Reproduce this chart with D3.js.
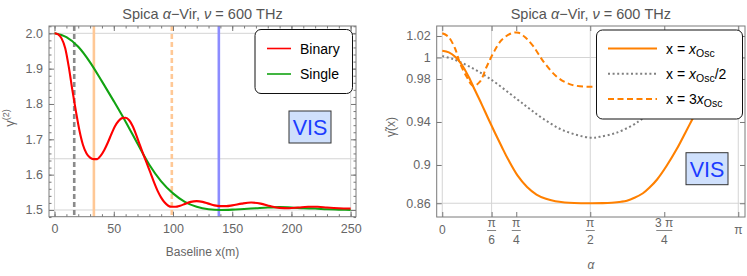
<!DOCTYPE html>
<meta charset="utf-8">
<style>
body { margin: 0; background: #fff; }
svg text { font-family: "Liberation Sans", Arial, Helvetica, sans-serif; }
.tick text { fill: #666; font-size: 12.5px; }
.tick line { stroke: #777; }
.frame { fill: none; stroke: #7a7a7a; stroke-width: 1; }
.grid { stroke: #d4d4d4; stroke-width: 1; }
.title { fill: #555; font-size: 14.5px; text-anchor: middle; }
.alabel { fill: #666; font-size: 12px; text-anchor: middle; }
.legtext { fill: #000; font-size: 14px; }
.vis { fill: #1b3cff; font-size: 21.5px; text-anchor: middle; }
</style>
<body>
<script src="https://d3js.org/d3.v7.min.js"></script>
<script>

// ---- left panel data: gamma(2) vs baseline ----
var binaryX = [0,3,6,9,12,15,18,21,24,27,30,33,36,39,42,45,48,51,54,57,60,63,66,69,72,75,78,81,84,87,
               90,93,96,99,102,106,110,115,120,125,130,135,140,145,150,158,166,174,182,190,198,206,214,222,230,240,250];
var binaryY = [2.000,1.997,1.985,1.958,1.905,1.840,1.780,1.725,1.684,1.660,1.648,1.644,1.644,1.654,1.670,1.691,1.715,1.737,1.752,1.760,
               1.761,1.754,1.737,1.712,1.684,1.657,1.631,1.605,1.578,1.554,1.535,1.521,1.512,1.509,1.509,1.512,1.517,1.523,1.525,1.523,
               1.518,1.513,1.511,1.511,1.513,1.518,1.521,1.518,1.511,1.506,1.505,1.507,1.509,1.509,1.507,1.505,1.504];
var singleX = [0,10,20,30,40,50,60,70,80,90,100,110,120,130,140,150,160,170,180,190,200,210,220,230,240,250];
var singleY = [2.000,1.989,1.962,1.918,1.864,1.808,1.750,1.688,1.628,1.581,1.547,1.523,1.509,1.502,1.500,1.501,1.503,1.505,1.507,1.508,
               1.507,1.505,1.504,1.502,1.501,1.500];
var markerX = [16.6, 33.2, 99, 138.7];
var xTicksL = [0,50,100,150,200,250];
var yTicksL = [1.5,1.6,1.7,1.8,1.9,2.0];
var yTickLabelsL = ["1.5","1.6","1.7","1.8","1.9","2.0"];
var hGridL = [2.0, 1.645, 1.5];
var vGridL = [0, 250];
var legendL = ["Binary", "Single"];

// ---- right panel data: gamma~(x) vs alpha ----
var oscA = [0,0.07,0.14,0.21,0.28,0.35,0.42,0.49,0.56,0.63,0.70,0.80,0.90,1.00,1.10,1.20,1.30,1.40,1.571,1.70,1.80,1.90,1.96,2.04,
            2.13,2.20,2.28,2.38,2.49,2.58,2.65,2.72,2.79,2.86,2.93,3.00,3.07,3.1416];
var oscV = [1.0063,1.0048,1.0005,0.9930,0.9820,0.9690,0.9562,0.9428,0.9298,0.9172,0.9050,0.8900,0.8795,0.8725,0.8685,0.8662,0.8651,0.8646,0.8644,
            0.8645,0.8649,0.8658,0.8668,0.8695,0.8737,0.8790,0.8865,0.8990,0.9150,0.9300,0.9419,0.9540,0.9665,0.9785,0.9890,0.9975,1.0035,1.0063];
var halfA = [0,0.12,0.29,0.50,0.79,0.93,1.08,1.29,1.571,1.67,1.85,2.03,2.10,2.28,2.50,2.80,3.1416];
var halfV = [1.0014,0.9983,0.9915,0.9806,0.9615,0.9520,0.9425,0.9320,0.9254,0.9262,0.9300,0.9375,0.9415,0.9520,0.9660,0.9850,1.0014];
var tripleA = [0,0.064,0.135,0.188,0.259,0.329,0.40,0.471,0.541,0.63,0.736,0.81,0.89,0.97,1.076,1.217,1.359,1.571,
               1.783,1.925,2.066,2.172,2.252,2.332,2.406,2.512,2.601,2.671,2.742,2.813,2.883,2.954,3.007,3.078,3.1416];
var tripleV = [1.0225,1.0194,1.0086,0.9946,0.9821,0.9735,0.9775,0.9914,1.0040,1.0163,1.0225,1.0230,1.0180,1.0100,0.9960,0.9820,0.9750,0.9728,
               0.9750,0.9820,0.9960,1.0100,1.0180,1.0230,1.0225,1.0163,1.0040,0.9914,0.9775,0.9735,0.9821,0.9946,1.0086,1.0194,1.0225];
var xTicksR = [0, Math.PI/6, Math.PI/4, Math.PI/2, 3*Math.PI/4, Math.PI];
var xTickNumR = ["0", "π", "π", "π", "3 π", "π"];
var xTickDenR = ["", "6", "4", "2", "4", ""];
var yTicksR = [1.02, 1, 0.98, 0.94, 0.9, 0.8644];
var yTickLabelsR = ["1.02", "1", "0.98", "0.94", "0.9", "0.86"];
var hGridR = [1, 0.8644];
var vGridR = [0, Math.PI/6, Math.PI/2, Math.PI];

var svg = d3.select("body").append("svg")
    .attr("width", 747)
    .attr("height", 276);

// frames (pixel boxes of the two plots)
var fL = {x0: 49, x1: 356, y0: 26, y1: 216.7};
var fR = {x0: 436.7, x1: 745, y0: 26, y1: 217};

var xL = d3.scaleLinear().domain([-4.7, 254.5]).range([fL.x0, fL.x1]);
var yL = d3.scaleLinear().domain([1.481, 2.0207]).range([fL.y1, fL.y0]);
var xR = d3.scaleLinear().domain([-0.059, 3.213]).range([fR.x0, fR.x1]);
var yR = d3.scaleLinear().domain([0.8516, 1.0293]).range([fR.y1, fR.y0]);

function clip(id, f) {
  svg.append("clipPath").attr("id", id).append("rect")
    .attr("x", f.x0).attr("y", f.y0).attr("width", f.x1 - f.x0).attr("height", f.y1 - f.y0);
}
clip("cL", fL);
clip("cR", fR);

function noDomain(g) { g.select(".domain").remove(); }

// ===================== LEFT PANEL =====================
var gL = svg.append("g");

// gridlines
gL.selectAll(".hg").data(hGridL).enter().append("line").attr("class", "grid")
  .attr("x1", fL.x0).attr("x2", fL.x1).attr("y1", function(d){ return yL(d); }).attr("y2", function(d){ return yL(d); });
gL.selectAll(".vg").data(vGridL).enter().append("line").attr("class", "grid")
  .attr("y1", fL.y0).attr("y2", fL.y1).attr("x1", function(d){ return xL(d); }).attr("x2", function(d){ return xL(d); });

// vertical marker lines
var markerStyle = [
  {c: "#8a8a8a", dash: "5,3"},
  {c: "#ffc896", dash: null},
  {c: "#ffc896", dash: "5,3"},
  {c: "#8c8cff", dash: null}
];
gL.selectAll(".mk").data(markerX).enter().append("line")
  .attr("x1", function(d){ return xL(d); }).attr("x2", function(d){ return xL(d); })
  .attr("y1", fL.y0).attr("y2", fL.y1)
  .attr("stroke", function(d, i){ return markerStyle[i].c; })
  .attr("stroke-width", 2.6)
  .attr("stroke-dasharray", function(d, i){ return markerStyle[i].dash; });

// curves
var lineL = d3.line()
  .x(function(d){ return xL(d[0]); })
  .y(function(d){ return yL(d[1]); })
  .curve(d3.curveMonotoneX);

gL.append("path").datum(d3.zip(singleX, singleY))
  .attr("clip-path", "url(#cL)")
  .attr("fill", "none").attr("stroke", "#12a312").attr("stroke-width", 2.1)
  .attr("d", lineL);
gL.append("path").datum(d3.zip(binaryX, binaryY))
  .attr("clip-path", "url(#cL)")
  .attr("fill", "none").attr("stroke", "#ff0000").attr("stroke-width", 2.1)
  .attr("d", lineL);

// ticks, inward on all four sides
gL.append("g").attr("transform", "translate(0," + fL.y1 + ")")
  .call(d3.axisBottom(xL).tickValues(xTicksL).tickSize(-5).tickPadding(7)).call(noDomain);
gL.append("g").attr("transform", "translate(0," + fL.y1 + ")")
  .call(d3.axisBottom(xL).tickValues(d3.range(0, 251, 10)).tickSize(-2.5).tickFormat("")).call(noDomain);
gL.append("g").attr("transform", "translate(0," + fL.y0 + ")")
  .call(d3.axisTop(xL).tickValues(xTicksL).tickSize(-5).tickFormat("")).call(noDomain);
gL.append("g").attr("transform", "translate(0," + fL.y0 + ")")
  .call(d3.axisTop(xL).tickValues(d3.range(0, 251, 10)).tickSize(-2.5).tickFormat("")).call(noDomain);
gL.append("g").attr("transform", "translate(" + fL.x0 + ",0)")
  .call(d3.axisLeft(yL).tickValues(yTicksL).tickSize(-5).tickPadding(6)
    .tickFormat(function(d, i){ return yTickLabelsL[i]; })).call(noDomain);
gL.append("g").attr("transform", "translate(" + fL.x0 + ",0)")
  .call(d3.axisLeft(yL).tickValues(d3.range(1.48, 2.021, 0.02)).tickSize(-2.5).tickFormat("")).call(noDomain);
gL.append("g").attr("transform", "translate(" + fL.x1 + ",0)")
  .call(d3.axisRight(yL).tickValues(yTicksL).tickSize(-5).tickFormat("")).call(noDomain);
gL.append("g").attr("transform", "translate(" + fL.x1 + ",0)")
  .call(d3.axisRight(yL).tickValues(d3.range(1.48, 2.021, 0.02)).tickSize(-2.5).tickFormat("")).call(noDomain);

gL.append("rect").attr("class", "frame")
  .attr("x", fL.x0).attr("y", fL.y0).attr("width", fL.x1 - fL.x0).attr("height", fL.y1 - fL.y0);

// title and axis labels
var tL = gL.append("text").attr("class", "title").attr("x", (fL.x0 + fL.x1) / 2).attr("y", 19);
tL.append("tspan").text("Spica ");
tL.append("tspan").attr("font-style", "italic").text("α");
tL.append("tspan").text("−Vir, ");
tL.append("tspan").attr("font-style", "italic").text("ν");
tL.append("tspan").text(" = 600 THz");

gL.append("text").attr("class", "alabel").attr("x", (fL.x0 + fL.x1) / 2).attr("y", 256).text("Baseline x(m)");
var ylab = gL.append("text").attr("class", "alabel").attr("transform", "translate(14,118) rotate(-90)");
ylab.append("tspan").attr("font-size", 13).text("γ");
ylab.append("tspan").attr("dy", -5).attr("font-size", 9).text("(2)");

// legend
gL.append("rect").attr("x", 255).attr("y", 29.5).attr("width", 97.5).attr("height", 64).attr("rx", 6)
  .attr("fill", "#fff").attr("stroke", "#111").attr("stroke-width", 1);
var legColL = ["#ff0000", "#12a312"];
legendL.forEach(function(name, i) {
  var yy = 48.5 + i * 25.5;
  gL.append("line").attr("x1", 267).attr("x2", 291).attr("y1", yy).attr("y2", yy)
    .attr("stroke", legColL[i]).attr("stroke-width", 1.6);
  gL.append("text").attr("class", "legtext").attr("x", 300).attr("y", yy + 5).text(name);
});

// VIS badge
gL.append("rect").attr("x", 289).attr("y", 111).attr("width", 42).attr("height", 32)
  .attr("fill", "#cfe0fc").attr("stroke", "#333");
gL.append("text").attr("class", "vis").attr("x", 310).attr("y", 134.5).text("VIS");

// ===================== RIGHT PANEL =====================
var gR = svg.append("g");

gR.selectAll(".hg").data(hGridR).enter().append("line").attr("class", "grid")
  .attr("x1", fR.x0).attr("x2", fR.x1).attr("y1", function(d){ return yR(d); }).attr("y2", function(d){ return yR(d); });
gR.selectAll(".vg").data(vGridR).enter().append("line").attr("class", "grid")
  .attr("y1", fR.y0).attr("y2", fR.y1).attr("x1", function(d){ return xR(d); }).attr("x2", function(d){ return xR(d); });

var lineR = d3.line()
  .x(function(d){ return xR(d[0]); })
  .y(function(d){ return yR(d[1]); })
  .curve(d3.curveCatmullRom.alpha(0.5));

gR.append("path").datum(d3.zip(halfA, halfV))
  .attr("clip-path", "url(#cR)")
  .attr("fill", "none").attr("stroke", "#808080").attr("stroke-width", 2).attr("stroke-dasharray", "2,2.6")
  .attr("d", lineR);
gR.append("path").datum(d3.zip(tripleA, tripleV))
  .attr("clip-path", "url(#cR)")
  .attr("fill", "none").attr("stroke", "#ff8000").attr("stroke-width", 2).attr("stroke-dasharray", "6,3.5")
  .attr("d", lineR);
gR.append("path").datum(d3.zip(oscA, oscV))
  .attr("clip-path", "url(#cR)")
  .attr("fill", "none").attr("stroke", "#ff8000").attr("stroke-width", 2.1)
  .attr("d", lineR);

// ticks
gR.append("g").attr("transform", "translate(0," + fR.y1 + ")")
  .call(d3.axisBottom(xR).tickValues(xTicksR).tickSize(-5).tickFormat("")).call(noDomain);
gR.append("g").attr("transform", "translate(0," + fR.y0 + ")")
  .call(d3.axisTop(xR).tickValues(xTicksR).tickSize(-5).tickFormat("")).call(noDomain);
gR.append("g").attr("transform", "translate(" + fR.x0 + ",0)")
  .call(d3.axisLeft(yR).tickValues(yTicksR).tickSize(-5).tickPadding(6)
    .tickFormat(function(d, i){ return yTickLabelsR[i]; })).call(noDomain);
gR.append("g").attr("transform", "translate(" + fR.x1 + ",0)")
  .call(d3.axisRight(yR).tickValues(yTicksR).tickSize(-5).tickFormat("")).call(noDomain);

// fraction tick labels for alpha
xTicksR.forEach(function(v, i) {
  var cx = xR(v);
  if (xTickDenR[i] === "") {
    gR.append("text").attr("class", "alabel").attr("font-size", 12.5).attr("x", cx).attr("y", 233.5).text(xTickNumR[i]);
  } else {
    var w = xTickNumR[i].length > 1 ? 16 : 9;
    gR.append("text").attr("class", "alabel").attr("font-size", 12.5).attr("x", cx).attr("y", 227).text(xTickNumR[i]);
    gR.append("line").attr("x1", cx - w / 2).attr("x2", cx + w / 2).attr("y1", 230.5).attr("y2", 230.5)
      .attr("stroke", "#666").attr("stroke-width", 0.8);
    gR.append("text").attr("class", "alabel").attr("font-size", 12.5).attr("x", cx).attr("y", 244).text(xTickDenR[i]);
  }
});

gR.append("rect").attr("class", "frame")
  .attr("x", fR.x0).attr("y", fR.y0).attr("width", fR.x1 - fR.x0).attr("height", fR.y1 - fR.y0);

var tR = gR.append("text").attr("class", "title").attr("x", (fR.x0 + fR.x1) / 2).attr("y", 19);
tR.append("tspan").text("Spica ");
tR.append("tspan").attr("font-style", "italic").text("α");
tR.append("tspan").text("−Vir, ");
tR.append("tspan").attr("font-style", "italic").text("ν");
tR.append("tspan").text(" = 600 THz");

gR.append("text").attr("class", "alabel").attr("font-style", "italic").attr("font-size", 13).attr("x", (fR.x0 + fR.x1) / 2).attr("y", 269).text("α");
gR.append("text").attr("class", "alabel").attr("transform", "translate(395,127) rotate(-90)").text("γ\u0303(x)");

// legend
gR.append("rect").attr("x", 596.5).attr("y", 30).attr("width", 146).attr("height", 89).attr("rx", 6)
  .attr("fill", "#fff").attr("stroke", "#111").attr("stroke-width", 1);
var legR = [
  {c: "#ff8000", dash: null, pre: "x = ", sub: "Osc", post: ""},
  {c: "#808080", dash: "2,2.6", pre: "x = ", sub: "Osc", post: "/2"},
  {c: "#ff8000", dash: "6,3.5", pre: "x = 3", sub: "Osc", post: ""}
];
legR.forEach(function(d, i) {
  var yy = 48.5 + i * 25.3;
  gR.append("line").attr("x1", 608).attr("x2", 657).attr("y1", yy).attr("y2", yy)
    .attr("stroke", d.c).attr("stroke-width", 2).attr("stroke-dasharray", d.dash);
  var t = gR.append("text").attr("class", "legtext").attr("font-size", 15).attr("x", 666).attr("y", yy + 5);
  t.append("tspan").text(d.pre);
  t.append("tspan").attr("font-style", "italic").text("x");
  t.append("tspan").attr("font-size", 10.5).attr("dy", 3).text(d.sub);
  if (d.post) t.append("tspan").attr("dy", -3).text(d.post);
});

gR.append("rect").attr("x", 686).attr("y", 152.7).attr("width", 42).attr("height", 32)
  .attr("fill", "#cfe0fc").attr("stroke", "#333");
gR.append("text").attr("class", "vis").attr("x", 707).attr("y", 176.5).text("VIS");

</script>
</body>
